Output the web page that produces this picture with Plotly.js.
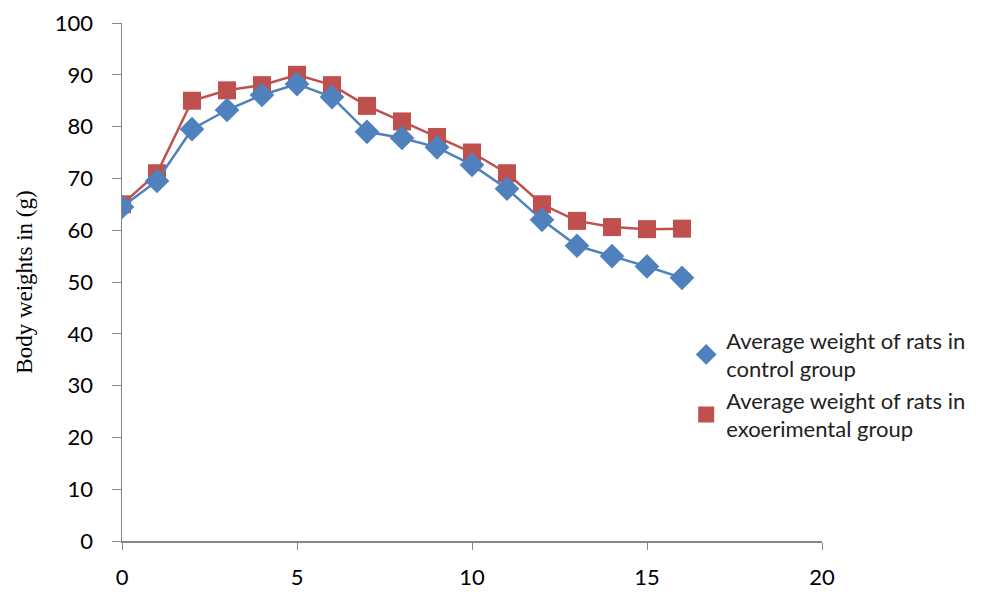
<!DOCTYPE html>
<html><head><meta charset="utf-8">
<script src="https://cdn.plot.ly/plotly-3.0.1.min.js"></script>
<style>body{margin:0;background:#fff}#c{width:998px;height:592px}</style>
</head><body><div id="c"></div>
<script>
var days = [0,1,2,3,4,5,6,7,8,9,10,11,12,13,14,15,16];
var controlWeights = [64.5,69.5,79.5,83.2,86.1,88.2,85.7,79,77.8,76,72.6,68,62,57,55,53,50.8];
var experimentalWeights = [65,71,85,87,88,90,88,84,81,78,75,71,65,61.8,60.6,60.2,60.3];
var controlName = 'Average weight of rats in<br>control group';
var experimentalName = 'Average weight of rats in<br>exoerimental group';
var yTitle = 'Body weights in (g)';
var xTicks = [0,5,10,15,20];

var blue = '#4F81BD', red = '#C0504D';
var data = [
  {x: days, y: experimentalWeights, mode: 'lines+markers', showlegend: false,
   line: {color: red, width: 2.5}, marker: {symbol: 'square', size: 18, color: red}},
  {x: days, y: controlWeights, mode: 'lines+markers', showlegend: false,
   line: {color: blue, width: 2.5}, marker: {symbol: 'diamond', size: 19, color: blue}},
  {x: [null], y: [null], mode: 'markers', name: controlName,
   marker: {symbol: 'diamond', size: 17, color: blue}},
  {x: [null], y: [null], mode: 'markers', name: experimentalName,
   marker: {symbol: 'square', size: 17, color: red}}
];

var layout = {
  width: 998, height: 592,
  margin: {l: 122, r: 176, t: 23, b: 51},
  paper_bgcolor: '#fff', plot_bgcolor: '#fff',
  font: {family: 'Lato, Carlito, sans-serif', size: 22, color: '#000'},
  xaxis: {range: [0, 20], tickvals: xTicks, ticks: 'outside', ticklen: 7,
          tickcolor: '#868686', showline: true, linecolor: '#868686', linewidth: 1.5,
          showgrid: false, zeroline: false, tickfont: {size: 22}, ticklabelstandoff: 9},
  yaxis: {range: [0, 100], dtick: 10, ticks: 'outside', ticklen: 9,
          tickcolor: '#868686', showline: true, linecolor: '#868686', linewidth: 1.5,
          showgrid: false, zeroline: false, tickfont: {size: 22}, ticklabelstandoff: 14,
          title: {text: yTitle, font: {family: 'Liberation Serif, Times New Roman, serif', size: 23}, standoff: 16}},
  legend: {x: 0.806, y: 0.428, xanchor: 'left', yanchor: 'top', bgcolor: 'rgba(0,0,0,0)',
           font: {size: 22, color: '#222'}, itemwidth: 30, tracegroupgap: 2},
  showlegend: true
};
Plotly.newPlot('c', data, layout, {staticPlot: true});
</script></body></html>
